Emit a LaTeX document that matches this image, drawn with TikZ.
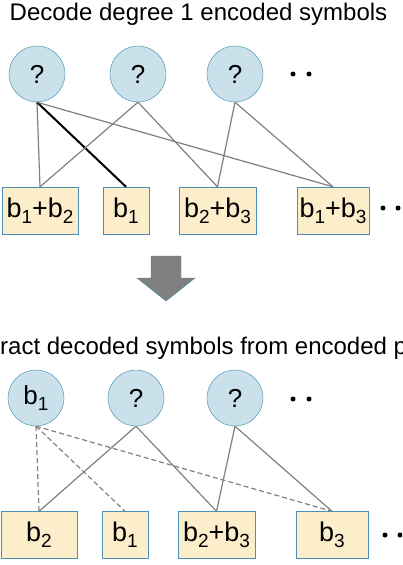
\documentclass[tikz,border=0pt]{standalone}
\usepackage{fontspec}
\setmainfont{Liberation Sans}
\usetikzlibrary{positioning}
\definecolor{srcFill}{RGB}{202,225,236}
\definecolor{srcEdge}{RGB}{58,135,168}
\definecolor{encFill}{RGB}{252,238,203}
\definecolor{encEdge}{RGB}{74,144,184}
\definecolor{linkGray}{RGB}{128,128,128}
\newcommand\idx[1]{\raisebox{-0.4ex}{\fontsize{19}{19}\selectfont #1}}

\begin{document}
\begin{tikzpicture}[x=1pt,y=-1pt,
  src/.style={circle, draw=srcEdge, fill=srcFill, minimum size=56pt, inner sep=0pt,
    font=\fontsize{26}{26}\selectfont},
  enc/.style={draw=encEdge, fill=encFill, minimum height=47pt, inner sep=0pt,
    font=\fontsize{27}{27}\selectfont},
  link/.style={linkGray, line width=1.2pt},
  title/.style={font=\fontsize{24}{24}\selectfont, inner sep=0pt, anchor=base},
]
\useasboundingbox (0,0) rectangle (402,565);
\clip (0,0) rectangle (402,565);

\node [title] (t1) at (198.5,20) {Decode degree 1 encoded symbols};

\node [src] (q1) at (37,74) {?};
\node [src] (q2) at (138,74) {?};
\node [src] (q3) at (235,74) {?};
\fill (293,74) circle (2.5pt);
\fill (309,74) circle (2.5pt);

\node [enc, minimum width=76pt] (e1) at (40,210.5) {b\idx{1}+b\idx{2}};
\node [enc, minimum width=46pt] (e2) at (126,210.5) {b\idx{1}};
\node [enc, minimum width=77pt] (e3) at (217.5,210.5) {b\idx{2}+b\idx{3}};
\node [enc, minimum width=72pt] (e4) at (333,210.5) {b\idx{1}+b\idx{3}};
\fill (383,208) circle (2.5pt);
\fill (398,208) circle (2.5pt);

\draw [link] (q1.south) -- (e1.north);
\draw [black, line width=2pt] (q1.south) -- (e2.north);
\draw [link] (q1.south) -- (e4.north);
\draw [link] (q2.south) -- (e1.north);
\draw [link] (q2.south) -- (e3.north);
\draw [link] (q3.south) -- (e3.north);
\draw [link] (q3.south) -- (e4.north);

\draw [srcEdge, fill=linkGray] (151,256) -- (181,256) -- (181,278) -- (195,278)
  -- (166,301) -- (137,278) -- (151,278) -- cycle;

\node [title, anchor=base west] (t2) at (0,354) {ract decoded symbols from encoded p};

\node [src] (p1) at (36,398) {b\idx{1}};
\node [src] (p2) at (136,398) {?};
\node [src] (p3) at (235,398) {?};
\fill (293,399) circle (2.5pt);
\fill (309,399) circle (2.5pt);

\node [enc, minimum width=76pt] (f1) at (39,535) {b\idx{2}};
\node [enc, minimum width=46pt] (f2) at (125,535) {b\idx{1}};
\node [enc, minimum width=77pt] (f3) at (216.5,535) {b\idx{2}+b\idx{3}};
\node [enc, minimum width=72pt] (f4) at (332,535) {b\idx{3}};
\fill (385,535) circle (2.5pt);
\fill (400,535) circle (2.5pt);

\draw [link, dash pattern=on 5pt off 3pt] (p1.south) -- (f1.north);
\draw [link, dash pattern=on 5pt off 3pt] (p1.south) -- (f2.north);
\draw [link, dash pattern=on 5pt off 3pt] (p1.south) -- (f4.north);
\draw [link] (p2.south) -- (f1.north);
\draw [link] (p2.south) -- (f3.north);
\draw [link] (p3.south) -- (f3.north);
\draw [link] (p3.south) -- (f4.north);
\end{tikzpicture}
\end{document}
